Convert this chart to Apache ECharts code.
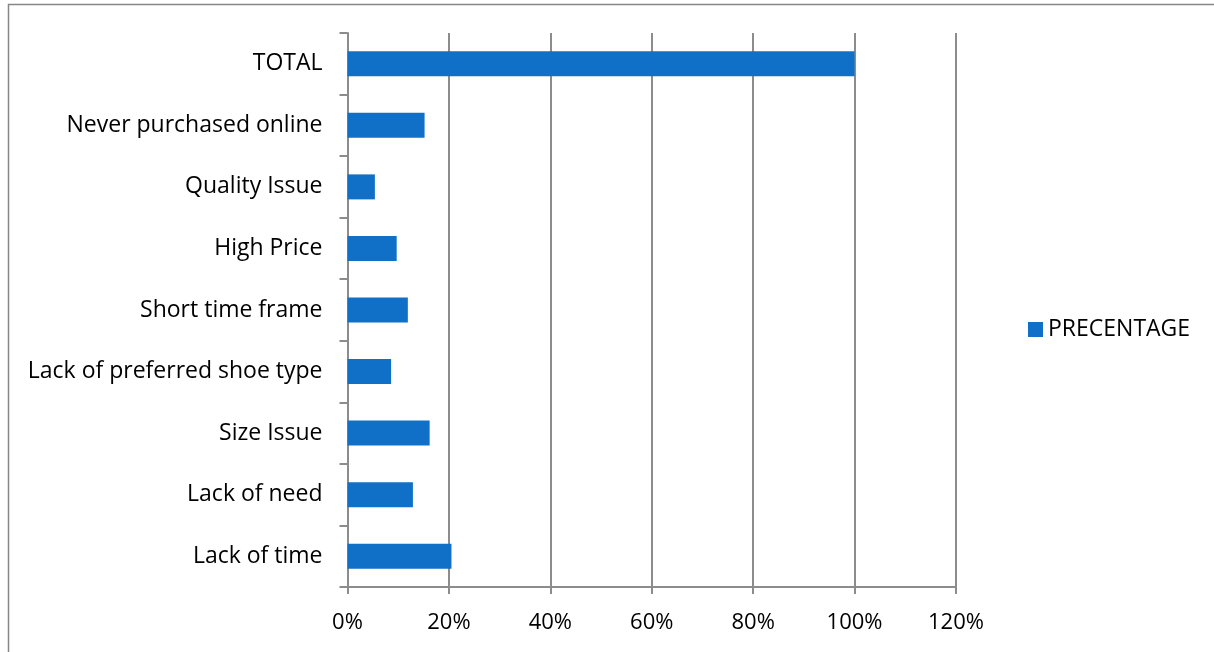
<!DOCTYPE html>
<html>
<head>
<meta charset="utf-8">
<script src="https://cdn.jsdelivr.net/npm/echarts@6/dist/echarts.min.js"></script>
<style>
html,body{margin:0;padding:0;background:#fff;}
#chart{width:1214px;height:652px;}
</style>
</head>
<body>
<div id="chart"></div>
<script>
const categories = ["Lack of time","Lack of need","Size Issue","Lack of preferred shoe type","Short time frame","High Price","Quality Issue","Never purchased online","TOTAL"];
const percentages = [20.5, 12.9, 16.2, 8.6, 11.9, 9.7, 5.4, 15.2, 100];
const seriesName = "PRECENTAGE";
const xTicks = [0, 20, 40, 60, 80, 100, 120];

const chart = echarts.init(document.getElementById('chart'));
const font = '"Open Sans", sans-serif';
const axisGrey = '#8c8c8c';
chart.setOption({
  animation: false,
  textStyle: {fontFamily: font},
  graphic: [{
    type: 'rect',
    shape: {x: 8.5, y: 4.5, width: 1300, height: 700},
    style: {fill: 'none', stroke: '#868686', lineWidth: 1.5},
    silent: true
  }],
  grid: {left: 347.5, right: 258, top: 33, bottom: 65, containLabel: false},
  legend: {
    data: [seriesName],
    left: 1028, top: 318, padding: 0,
    itemWidth: 15, itemHeight: 15, itemGap: 7,
    icon: 'rect',
    textStyle: {fontSize: 23, color: '#000', fontFamily: font, padding: [0,0,0,0]}
  },
  xAxis: {
    type: 'value', min: xTicks[0], max: xTicks[xTicks.length-1], interval: 20,
    axisLine: {show: true, lineStyle: {color: axisGrey, width: 2}},
    axisTick: {show: true, length: 7, lineStyle: {color: axisGrey, width: 2}},
    splitLine: {show: true, lineStyle: {color: axisGrey, width: 2}},
    axisLabel: {fontSize: 22, color: '#000', margin: 25, formatter: v => v + '%', fontFamily: font}
  },
  yAxis: {
    type: 'category', data: categories,
    axisLine: {show: true, lineStyle: {color: axisGrey, width: 2}},
    axisTick: {show: true, length: 8, alignWithLabel: false, lineStyle: {color: axisGrey, width: 2}},
    axisLabel: {fontSize: 23, color: '#000', margin: 25, fontFamily: font, padding: [4,0,0,0]},
    splitLine: {show: false}
  },
  series: [{
    name: seriesName, type: 'bar', data: percentages,
    barWidth: 25,
    itemStyle: {color: '#1070c8'}
  }]
});
</script>
</body>
</html>
